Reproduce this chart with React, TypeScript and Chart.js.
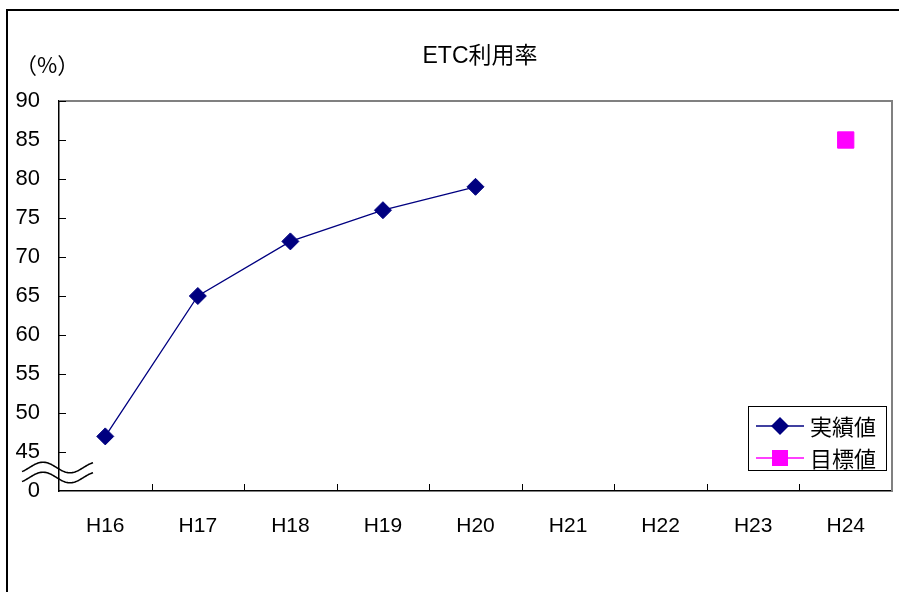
import React, { useEffect, useRef } from 'react';
import { Chart, registerables } from 'chart.js';

Chart.register(...registerables);

const chartTitle = 'ETC利用率';
const unitLabel = '（%）';
const categories = ['H16', 'H17', 'H18', 'H19', 'H20', 'H21', 'H22', 'H23', 'H24'];
const actualValues: (number | null)[] = [47, 65, 72, 76, 79, null, null, null, null];
const targetValues: (number | null)[] = [null, null, null, null, null, null, null, null, 85];
const seriesNames = ['実績値', '目標値'];
const seriesColors = ['#000080', '#FF00FF'];
const yMin = 40; // axis is broken: bottom of scale is labelled 0
const yMax = 90;
const yStep = 5;
const breakLabel = '0';

const NUM_FONT = '"Liberation Sans", "Noto Sans CJK JP", sans-serif';
const CJK_FONT = '"Noto Sans CJK JP", "Liberation Sans", sans-serif';

const decorPlugin = {
  id: 'decor',
  afterDraw(chart: any) {
    const ctx = chart.ctx as CanvasRenderingContext2D;
    const ca = chart.chartArea;
    const xs = chart.scales.x;
    const ys = chart.scales.y;
    ctx.save();

    // outer frame
    ctx.strokeStyle = '#000';
    ctx.lineWidth = 2;
    ctx.strokeRect(7, 10, 1000, 1000);

    // plot area top / right border (gray)
    ctx.strokeStyle = '#808080';
    ctx.lineWidth = 2;
    ctx.beginPath();
    ctx.moveTo(ca.left, ca.top);
    ctx.lineTo(ca.right, ca.top);
    ctx.lineTo(ca.right, ca.bottom);
    ctx.stroke();

    // inside tick marks
    ctx.strokeStyle = '#000';
    ctx.lineWidth = 1;
    ctx.beginPath();
    for (let v = yMin + yStep; v <= yMax; v += yStep) {
      const y = Math.round(ys.getPixelForValue(v)) + 0.5;
      ctx.moveTo(ca.left, y);
      ctx.lineTo(ca.left + 7, y);
    }
    for (let i = 0; i < categories.length - 1; i++) {
      const x = Math.round((xs.getPixelForValue(i) + xs.getPixelForValue(i + 1)) / 2) + 0.5;
      ctx.moveTo(x, ca.bottom);
      ctx.lineTo(x, ca.bottom - 7);
    }
    ctx.stroke();

    // axis break symbol (two waves)
    ctx.lineWidth = 1.6;
    ctx.strokeStyle = '#000';
    [467.5, 477.5].forEach((mid) => {
      ctx.beginPath();
      for (let x = 22; x <= 93; x += 1) {
        const y = mid - 5.3 * Math.cos((2 * Math.PI * (x - 43)) / 54);
        if (x === 22) ctx.moveTo(x, y);
        else ctx.lineTo(x, y);
      }
      ctx.stroke();
    });

    // title
    ctx.fillStyle = '#000';
    ctx.font = `23px ${NUM_FONT}`;
    ctx.textAlign = 'center';
    ctx.textBaseline = 'middle';
    ctx.fillText(chartTitle, 480, 57);

    // unit label
    ctx.font = `22px ${CJK_FONT}`;
    ctx.textAlign = 'left';
    ctx.fillText(unitLabel, 15, 65);

    // legend
    const bx = 748.5, by = 406.5, bw = 138, bh = 64;
    ctx.fillStyle = '#fff';
    ctx.fillRect(bx, by, bw, bh);
    ctx.strokeStyle = '#000';
    ctx.lineWidth = 1;
    ctx.strokeRect(bx, by, bw, bh);
    const rows = [426, 458];
    rows.forEach((ry, i) => {
      const c = seriesColors[i];
      ctx.strokeStyle = c;
      ctx.lineWidth = 1.3;
      ctx.beginPath();
      ctx.moveTo(756, ry);
      ctx.lineTo(804, ry);
      ctx.stroke();
      ctx.fillStyle = c;
      ctx.beginPath();
      if (i === 0) {
        const r = 9;
        ctx.moveTo(780, ry - r);
        ctx.lineTo(780 + r, ry);
        ctx.lineTo(780, ry + r);
        ctx.lineTo(780 - r, ry);
        ctx.closePath();
      } else {
        ctx.rect(780 - 8, ry - 8, 16, 16);
      }
      ctx.fill();
      ctx.fillStyle = '#000';
      ctx.font = `22px ${CJK_FONT}`;
      ctx.textAlign = 'left';
      ctx.textBaseline = 'middle';
      ctx.fillText(seriesNames[i], 810, ry + 1);
    });

    ctx.restore();
  },
};

export default function App() {
  const ref = useRef<HTMLCanvasElement | null>(null);

  useEffect(() => {
    document.body.style.margin = '0';
    const canvas = ref.current;
    if (!canvas) return;
    const chart = new Chart(canvas, {
      type: 'line',
      data: {
        labels: categories,
        datasets: [
          {
            label: seriesNames[0],
            data: actualValues,
            borderColor: seriesColors[0],
            backgroundColor: seriesColors[0],
            pointBackgroundColor: seriesColors[0],
            pointBorderColor: seriesColors[0],
            pointStyle: 'rectRot',
            pointRadius: 8.5,
            pointBorderWidth: 1,
            borderWidth: 1.3,
            tension: 0,
            spanGaps: false,
          },
          {
            label: seriesNames[1],
            data: targetValues,
            borderColor: seriesColors[1],
            backgroundColor: seriesColors[1],
            pointBackgroundColor: seriesColors[1],
            pointBorderColor: seriesColors[1],
            pointStyle: 'rect',
            pointRadius: 11.5,
            pointBorderWidth: 1,
            showLine: false,
          },
        ],
      },
      options: {
        animation: false,
        responsive: false,
        maintainAspectRatio: false,
        layout: { autoPadding: false, padding: { left: 0, top: 101, right: 7, bottom: 0 } },
        plugins: {
          legend: { display: false },
          title: { display: false },
          tooltip: { enabled: false },
        },
        scales: {
          x: {
            type: 'category',
            offset: true,
            grid: { display: false, drawTicks: false },
            border: { display: true, color: '#000', width: 1.5 },
            ticks: {
              color: '#000',
              font: { family: NUM_FONT, size: 21 },
              padding: 23,
              maxRotation: 0,
              autoSkip: false,
            },
            afterFit: (s: any) => {
              s.height = 101;
              s.paddingLeft = 0;
              s.paddingRight = 0;
            },
          },
          y: {
            type: 'linear',
            min: yMin,
            max: yMax,
            grid: { display: false, drawTicks: false },
            border: { display: true, color: '#000', width: 1.5 },
            ticks: {
              stepSize: yStep,
              color: '#000',
              font: { family: NUM_FONT, size: 22 },
              padding: 19,
              callback: (v: any) => (Number(v) === yMin ? breakLabel : String(v)),
            },
            afterFit: (s: any) => {
              s.width = 59;
              s.paddingTop = 0;
              s.paddingBottom = 0;
            },
          },
        },
      },
      plugins: [decorPlugin],
    } as any);
    return () => chart.destroy();
  }, []);

  return (
    <canvas
      ref={ref}
      width={899}
      height={592}
      style={{ display: 'block', width: 899, height: 592 }}
    />
  );
}
